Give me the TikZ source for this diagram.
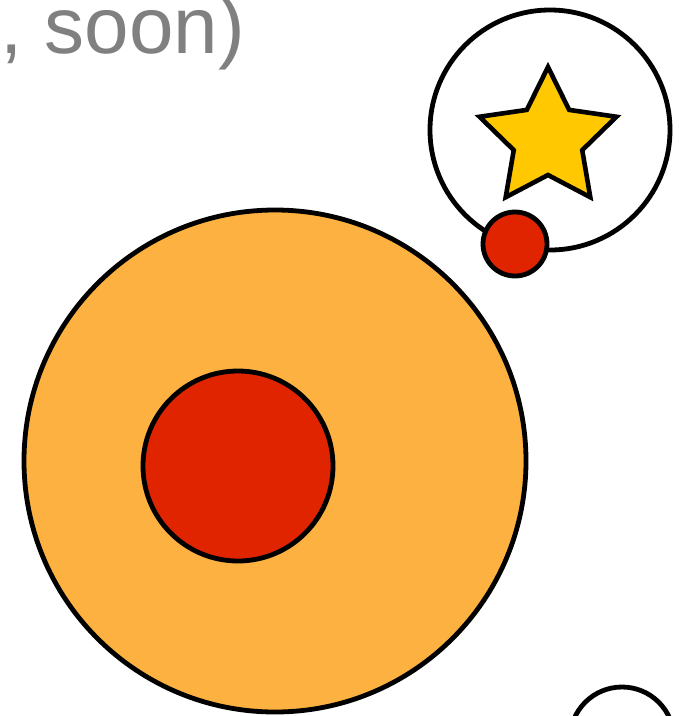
\documentclass[tikz,border=0pt]{standalone}
\usepackage{fontspec}
\setmainfont{Liberation Sans}
\usepackage{xcolor}
\definecolor{captiongray}{RGB}{128,128,128}
\definecolor{cellorange}{RGB}{253,177,64}
\definecolor{corered}{RGB}{224,36,0}
\definecolor{staryellow}{RGB}{255,200,0}
\usetikzlibrary{calc}

\begin{document}
\begin{tikzpicture}[
  x=1pt, y=-1pt,
  disc/.style={circle, draw=black, line width=4.8pt, inner sep=0pt, minimum size=#1},
  starline/.style={draw=black, fill=staryellow, line width=4.6pt, line join=miter},
  caption/.style={anchor=base west, inner sep=0pt, text=captiongray, font=\fontsize{80}{90}\selectfont}
]
\useasboundingbox (0,0) rectangle (684,716);

\node[caption] (tail) at (0,53) {, soon)};

% star inside the white ring
\node[disc=240pt, fill=white] (ring) at (550,130) {};
\coordinate (starc) at (548,139);
\draw[starline] ($(starc)+(-90:72)$)
  \foreach \a in {-90,-18,54,126,198}{ -- ($(starc)+(\a+36:36)$) -- ($(starc)+(\a+72:72)$) } -- cycle;
\node[disc=64pt, fill=corered] (dot) at (515,244) {};

% big cell with its core
\node[disc=502pt, fill=cellorange] (cell) at (275,461) {};
\node[disc=190pt, fill=corered] (core) at (238,466) {};

\node[disc=104pt, fill=white] (edge) at (622,739) {};
\end{tikzpicture}
\end{document}
